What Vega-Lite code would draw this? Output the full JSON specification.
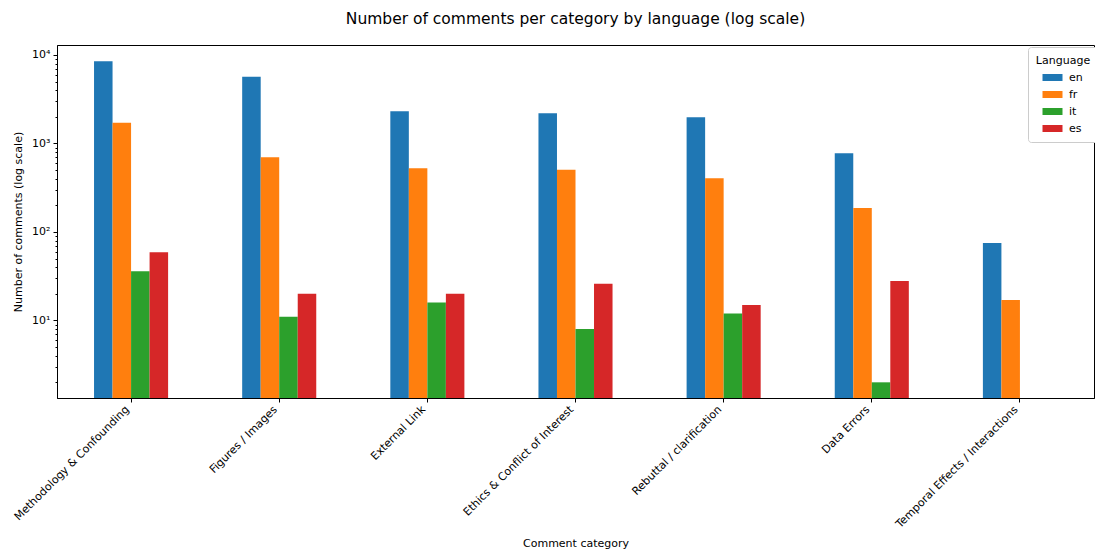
{
  "$schema": "https://vega.github.io/schema/vega-lite/v6.json",
  "autosize": "none",
  "width": 1037,
  "height": 353,
  "padding": {"left": 57, "top": 45, "right": 1, "bottom": 154},
  "background": "white",
  "config": {
    "font": "DejaVu Sans",
    "view": {"stroke": "black", "strokeWidth": 1},
    "axis": {"labelFont": "DejaVu Sans", "titleFont": "DejaVu Sans", "labelColor": "black", "titleColor": "black", "domainColor": "black", "tickColor": "black", "labelFontSize": 11, "titleFontSize": 11, "titleFontWeight": "normal", "grid": false}
  },
  "title": {"text": "Number of comments per category by language (log scale)", "font": "DejaVu Sans", "fontSize": 15.5, "fontWeight": "normal", "color": "black", "anchor": "middle", "offset": 18},
  "data": {"values": [
    {"category": "Methodology & Confounding", "language": "en", "count": 8500},
    {"category": "Methodology & Confounding", "language": "fr", "count": 1720},
    {"category": "Methodology & Confounding", "language": "it", "count": 36},
    {"category": "Methodology & Confounding", "language": "es", "count": 59},
    {"category": "Figures / Images", "language": "en", "count": 5690},
    {"category": "Figures / Images", "language": "fr", "count": 698},
    {"category": "Figures / Images", "language": "it", "count": 11},
    {"category": "Figures / Images", "language": "es", "count": 20},
    {"category": "External Link", "language": "en", "count": 2310},
    {"category": "External Link", "language": "fr", "count": 525},
    {"category": "External Link", "language": "it", "count": 16},
    {"category": "External Link", "language": "es", "count": 20},
    {"category": "Ethics & Conflict of Interest", "language": "en", "count": 2190},
    {"category": "Ethics & Conflict of Interest", "language": "fr", "count": 506},
    {"category": "Ethics & Conflict of Interest", "language": "it", "count": 8},
    {"category": "Ethics & Conflict of Interest", "language": "es", "count": 26},
    {"category": "Rebuttal / clarification", "language": "en", "count": 1980},
    {"category": "Rebuttal / clarification", "language": "fr", "count": 405},
    {"category": "Rebuttal / clarification", "language": "it", "count": 12},
    {"category": "Rebuttal / clarification", "language": "es", "count": 15},
    {"category": "Data Errors", "language": "en", "count": 774},
    {"category": "Data Errors", "language": "fr", "count": 187},
    {"category": "Data Errors", "language": "it", "count": 2},
    {"category": "Data Errors", "language": "es", "count": 28},
    {"category": "Temporal Effects / Interactions", "language": "en", "count": 75},
    {"category": "Temporal Effects / Interactions", "language": "fr", "count": 17}
  ]},
  "mark": {"type": "bar", "clip": true},
  "encoding": {
    "x": {"field": "category", "type": "nominal", "sort": null,
      "scale": {"paddingInner": 0.5, "paddingOuter": 0.25},
      "axis": {"title": "Comment category", "labelAngle": -45, "labelAlign": "right", "labelBaseline": "bottom", "tickSize": 4, "labelPadding": 9, "titlePadding": 8}},
    "xOffset": {"field": "language", "type": "nominal", "sort": ["en", "fr", "it", "es"], "scale": {"paddingInner": 0, "paddingOuter": 0}},
    "y": {"field": "count", "type": "quantitative", "stack": null,
      "scale": {"type": "log", "domain": [1.33, 12970], "nice": false},
      "axis": {"title": "Number of comments (log scale)", "labelOverlap": false,
        "values": [2,3,4,5,6,7,8,9,10,20,30,40,50,60,70,80,90,100,200,300,400,500,600,700,800,900,1000,2000,3000,4000,5000,6000,7000,8000,9000,10000],
        "labelExpr": "datum.value == 10 ? '10¹' : datum.value == 100 ? '10²' : datum.value == 1000 ? '10³' : datum.value == 10000 ? '10⁴' : ''",
        "tickSize": {"condition": {"test": "datum.value == 10 || datum.value == 100 || datum.value == 1000 || datum.value == 10000", "value": 4}, "value": 2},
        "labelPadding": 3, "titlePadding": 8}},
    "y2": {"datum": 1.33},
    "color": {"field": "language", "type": "nominal", "sort": ["en", "fr", "it", "es"],
      "scale": {"domain": ["en", "fr", "it", "es"], "range": ["#1f77b4", "#ff7f0e", "#2ca02c", "#d62728"]},
      "legend": {"title": "Language", "orient": "none", "legendX": 971, "legendY": 2, "titleAnchor": "middle", "titleFontWeight": "normal", "titleFontSize": 11, "titleColor": "black", "labelFontSize": 11, "labelColor": "black", "fillColor": "white", "strokeColor": "#cccccc", "cornerRadius": 3, "padding": 8, "symbolType": "M-2,-0.7H2V0.7H-2Z", "symbolSize": 100, "symbolStrokeWidth": 0, "symbolOffset": 4, "labelOffset": 11, "rowPadding": 5, "titlePadding": 6}}
  }
}
